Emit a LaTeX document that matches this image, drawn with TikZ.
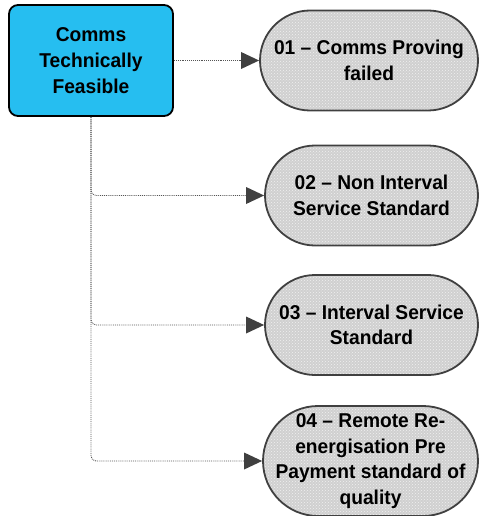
\documentclass[tikz,border=0pt]{standalone}
\usepackage{fontspec}
\setmainfont{Liberation Sans}[FakeStretch=0.96]
\usetikzlibrary{arrows.meta,patterns}
\definecolor{boxblue}{RGB}{38,190,240}
\definecolor{ovalfill}{RGB}{208,208,208}
\definecolor{ovaldraw}{RGB}{64,64,64}
\definecolor{connc}{RGB}{85,85,85}
\tikzset{
  rootbox/.style={draw=black, line width=1.8pt, fill=boxblue, rounded corners=9pt,
    minimum width=164pt, minimum height=111pt, align=center, inner sep=0pt,
    font=\fontsize{20pt}{26pt}\selectfont\bfseries},
  ovalbox/.style={draw=ovaldraw, line width=1.8pt, preaction={fill=ovalfill},
    pattern=crosshatch dots, pattern color=white!88!gray, rectangle,
    rounded corners=50pt,
    minimum height=100pt, align=center, inner sep=0pt,
    font=\fontsize{20pt}{25.5pt}\selectfont\bfseries},
  conn/.style={draw=connc, line width=0.9pt, densely dotted, rounded corners=5pt,
    -{Triangle[length=18pt,width=17pt,fill=ovaldraw,color=ovaldraw,line width=0pt]}},
}
\begin{document}
\begin{tikzpicture}[x=1pt,y=-1pt]
\useasboundingbox (0,0) rectangle (479,516);
\node[rootbox] (root) at (91,60.5) {Comms\\Technically\\Feasible};
\node[ovalbox, minimum width=218pt] (n1) at (369,60.5) {01 – Comms Proving\\failed};
\node[ovalbox, minimum width=213pt] (n2) at (371.5,195.5) {02 – Non Interval\\Service Standard};
\node[ovalbox, minimum width=213pt] (n3) at (371.5,325) {03 – Interval Service\\Standard};
\node[ovalbox, minimum width=215pt, minimum height=110pt, rounded corners=55pt] (n4) at (370.5,461) {04 – Remote Re-\\energisation Pre\\Payment standard of\\quality};
\draw[conn] (root.east) -- (n1.west);
\draw[conn] (root.south) |- (n2.west);
\draw[conn] (root.south) |- (n3.west);
\draw[conn] (root.south) |- (n4.west);
\end{tikzpicture}
\end{document}
